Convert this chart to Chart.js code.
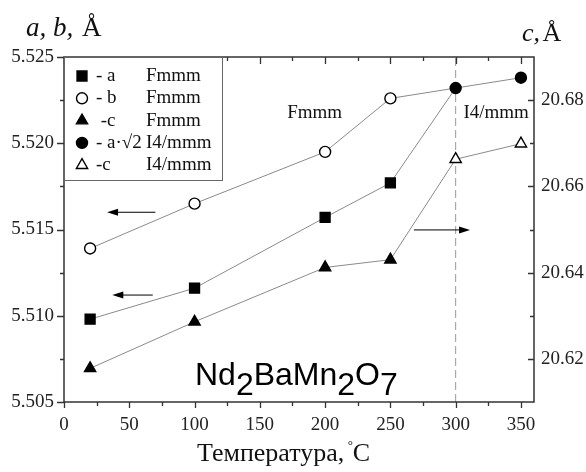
<!DOCTYPE html>
<html>
<head>
<meta charset="utf-8">
<script src="https://cdn.jsdelivr.net/npm/chart.js@4"></script>
<style>
  html, body { margin: 0; padding: 0; background: #fff; }
  #wrap { width: 586px; height: 472px; position: relative; }
</style>
</head>
<body>
<div id="wrap"><canvas id="grafico"></canvas></div>
<script>
// datos
const tempFmmm = [20, 100, 200, 250];
const tempI4 = [300, 350];
const aFmmm = [5.5098, 5.5116, 5.5157, 5.5177];
const bFmmm = [5.5139, 5.5165, 5.5195, 5.5226];
const aRaiz2I4 = [5.5232, 5.5238];
const cFmmm = [20.6178, 20.6286, 20.6412, 20.6430];
const cI4 = [20.6663, 20.6699];

const xTicks = [0, 50, 100, 150, 200, 250, 300, 350];
const xMinor = [25, 75, 125, 175, 225, 275, 325];
const yTicks = [5.505, 5.510, 5.515, 5.520, 5.525];
const yMinor = [5.5075, 5.5125, 5.5175, 5.5225];
const y2Ticks = [20.62, 20.64, 20.66, 20.68];
const y2Minor = [20.63, 20.65, 20.67];

const leyendaNombres = ['- a', '- b', ' -c', '- a\u00B7\u221A2', '-c'];
const leyendaFases = ['Fmmm', 'Fmmm', 'Fmmm', 'I4/mmm', 'I4/mmm'];
const leyendaSimbolos = ['rect', 'circle', 'triangle', 'circle', 'triangle'];
const leyendaRellenos = [true, false, true, true, false];

const SERIF = "'Liberation Serif', serif";
const GRIS = '#8a8a8a';

Chart.defaults.font.family = SERIF;

function puntos(xs, ys) {
    return xs.map((x, i) => ({ x: x, y: ys[i] }));
}

// estilo comun de las series
function serie(data, eje, estilo, relleno, radio, radios) {
    return {
        data: data,
        yAxisID: eje,
        showLine: true,
        borderColor: GRIS,
        borderWidth: 1,
        pointStyle: estilo,
        pointRadius: radios || radio,
        pointBackgroundColor: relleno ? '#000' : '#fff',
        pointBorderColor: '#000',
        pointBorderWidth: 1.4
    };
}

const datasets = [
    serie(puntos(tempI4, aRaiz2I4), 'y', 'circle', true, 5.5),
    serie(puntos(tempI4, cI4), 'y2', 'triangle', false, 6.5),
    serie(puntos(tempFmmm, aFmmm).concat([{ x: tempI4[0], y: aRaiz2I4[0] }]), 'y', 'rect', true, 7, [7, 7, 7, 7, 0]),
    serie(puntos(tempFmmm, bFmmm).concat([{ x: tempI4[0], y: aRaiz2I4[0] }]), 'y', 'circle', false, 5.5, [5.5, 5.5, 5.5, 5.5, 0]),
    serie(puntos(tempFmmm, cFmmm).concat([{ x: tempI4[0], y: cI4[0] }]), 'y2', 'triangle', true, 6.5, [6.5, 6.5, 6.5, 6.5, 0]),
    {
        // linea discontinua de la transicion
        data: [{ x: tempI4[0], y: yTicks[0] }, { x: tempI4[0], y: yTicks[yTicks.length - 1] }],
        yAxisID: 'y',
        showLine: true,
        borderColor: '#999',
        borderWidth: 1,
        borderDash: [8, 4],
        pointRadius: 0
    }
];

function fijarTicks(valores) {
    return function (scale) {
        scale.ticks = valores.map(v => ({ value: v }));
    };
}

function flecha(ctx, x1, y, x2) {
    const dir = Math.sign(x2 - x1);
    ctx.strokeStyle = '#000';
    ctx.fillStyle = '#000';
    ctx.lineWidth = 1;
    ctx.beginPath();
    ctx.moveTo(x1, y);
    ctx.lineTo(x2 - dir * 8, y);
    ctx.stroke();
    ctx.beginPath();
    ctx.moveTo(x2, y);
    ctx.lineTo(x2 - dir * 11, y - 3.5);
    ctx.lineTo(x2 - dir * 11, y + 3.5);
    ctx.closePath();
    ctx.fill();
}

const extras = {
    id: 'extras',
    afterDatasetsDraw(chart) {
        const ctx = chart.ctx;
        const sx = chart.scales.x, sy = chart.scales.y, sy2 = chart.scales.y2;
        const area = chart.chartArea;
        ctx.save();

        // marco
        ctx.strokeStyle = '#333';
        ctx.lineWidth = 1.5;
        ctx.strokeRect(area.left, area.top, area.right - area.left, area.bottom - area.top);

        // marcas de los ejes
        ctx.lineWidth = 1.3;
        ctx.beginPath();
        xTicks.forEach(v => {
            const px = Math.round(sx.getPixelForValue(v)) + 0.5;
            ctx.moveTo(px, area.bottom); ctx.lineTo(px, area.bottom + 6);
            ctx.moveTo(px, area.top); ctx.lineTo(px, area.top + 7);
        });
        xMinor.forEach(v => {
            const px = Math.round(sx.getPixelForValue(v)) + 0.5;
            ctx.moveTo(px, area.bottom); ctx.lineTo(px, area.bottom + 4);
            ctx.moveTo(px, area.top); ctx.lineTo(px, area.top + 4);
        });
        yTicks.forEach(v => {
            const py = Math.round(sy.getPixelForValue(v)) + 0.5;
            ctx.moveTo(area.left, py); ctx.lineTo(area.left - 7, py);
        });
        yMinor.forEach(v => {
            const py = Math.round(sy.getPixelForValue(v)) + 0.5;
            ctx.moveTo(area.left, py); ctx.lineTo(area.left - 4, py);
        });
        y2Ticks.forEach(v => {
            const py = Math.round(sy2.getPixelForValue(v)) + 0.5;
            ctx.moveTo(area.right, py); ctx.lineTo(area.right - 6, py);
        });
        y2Minor.forEach(v => {
            const py = Math.round(sy2.getPixelForValue(v)) + 0.5;
            ctx.moveTo(area.right, py); ctx.lineTo(area.right - 4, py);
        });
        ctx.stroke();

        // leyenda
        const lx = area.left, ly = area.top;
        ctx.fillStyle = '#fff';
        ctx.fillRect(lx + 1, ly + 1, 157, 122);
        ctx.strokeStyle = '#666';
        ctx.lineWidth = 1;
        ctx.strokeRect(lx + 0.5, ly + 0.5, 158, 123);
        leyendaNombres.forEach((nombre, i) => {
            const yy = ly + 19 + i * 22.3;
            ctx.fillStyle = leyendaRellenos[i] ? '#000' : '#fff';
            ctx.strokeStyle = '#000';
            ctx.lineWidth = 1.4;
            const r = leyendaSimbolos[i] === 'rect' ? 7 : (leyendaSimbolos[i] === 'triangle' ? 6.5 : 5.5);
            Chart.helpers.drawPoint(ctx, { pointStyle: leyendaSimbolos[i], radius: r, rotation: 0, borderWidth: 1.4 }, lx + 18, yy);
            ctx.fillStyle = '#111';
            ctx.font = '19px ' + SERIF;
            ctx.textBaseline = 'middle';
            ctx.textAlign = 'left';
            ctx.fillText(nombre, lx + 32, yy);
            ctx.fillText(leyendaFases[i], lx + 82, yy);
        });

        // etiquetas de fase
        ctx.font = '19px ' + SERIF;
        ctx.textAlign = 'center';
        ctx.fillStyle = '#111';
        ctx.fillText('Fmmm', sx.getPixelForValue(192), sy.getPixelForValue(5.52175));
        ctx.fillText('I4/mmm', sx.getPixelForValue(331), sy.getPixelForValue(5.52175));

        // flechas
        flecha(ctx, sx.getPixelForValue(70), sy.getPixelForValue(5.5160), sx.getPixelForValue(33));
        flecha(ctx, sx.getPixelForValue(68), sy.getPixelForValue(5.5112), sx.getPixelForValue(37));
        flecha(ctx, sx.getPixelForValue(268), sy2.getPixelForValue(20.6499), sx.getPixelForValue(311));

        // formula
        ctx.font = "32px 'Liberation Sans', sans-serif";
        ctx.textAlign = 'left';
        ctx.textBaseline = 'alphabetic';
        ctx.fillStyle = '#000';
        let fx = 195;
        const base = 385;
        [['Nd', 0], ['2', 10], ['BaMn', 0], ['2', 10], ['O', 0], ['7', 10]].forEach(p => {
            ctx.fillText(p[0], fx, base + p[1]);
            fx += ctx.measureText(p[0]).width;
        });

        // titulos de ejes
        ctx.fillStyle = '#111';
        ctx.font = 'italic 27px ' + SERIF;
        ctx.fillText('a, b, ', 26, 36);
        let w = ctx.measureText('a, b, ').width;
        ctx.font = '27px ' + SERIF;
        ctx.fillText('\u00C5', 26 + w + 2, 36);
        ctx.font = 'italic 26px ' + SERIF;
        ctx.fillText('c,', 522, 41);
        w = ctx.measureText('c, ').width;
        ctx.font = '26px ' + SERIF;
        ctx.fillText('\u00C5', 522 + w - 4, 41);

        ctx.font = '26px ' + SERIF;
        const tituloX = 'Температура, ';
        ctx.fillText(tituloX, 197, 461);
        w = ctx.measureText(tituloX).width;
        ctx.font = '13px ' + SERIF;
        ctx.fillText('\u00B0', 197 + w - 3, 449);
        ctx.font = '26px ' + SERIF;
        ctx.fillText('C', 197 + w + 2, 461);

        ctx.restore();
    }
};

new Chart(document.getElementById('grafico'), {
    type: 'scatter',
    data: { datasets: datasets },
    options: {
        responsive: true,
        maintainAspectRatio: false,
        animation: false,
        layout: { padding: { top: 57, left: 0, right: 0, bottom: 0 } },
        plugins: { legend: { display: false }, tooltip: { enabled: false } },
        scales: {
            x: {
                type: 'linear',
                min: 0,
                max: 360,
                afterBuildTicks: fijarTicks(xTicks),
                afterFit: s => { s.height = 70; },
                grid: { display: false, drawTicks: false },
                border: { display: false },
                ticks: {
                    padding: 12,
                    color: '#222',
                    font: { family: SERIF, size: 19 },
                    callback: v => String(v)
                }
            },
            y: {
                type: 'linear',
                position: 'left',
                min: 5.505,
                max: 5.525,
                afterBuildTicks: fijarTicks(yTicks),
                afterFit: s => { s.width = 64; },
                grid: { display: false, drawTicks: false },
                border: { display: false },
                ticks: {
                    padding: 10,
                    color: '#222',
                    font: { family: SERIF, size: 19 },
                    callback: v => v.toFixed(3)
                }
            },
            y2: {
                type: 'linear',
                position: 'right',
                min: 20.61,
                max: 20.69,
                afterBuildTicks: fijarTicks(y2Ticks),
                afterFit: s => { s.width = 52; },
                grid: { display: false, drawTicks: false },
                border: { display: false },
                ticks: {
                    padding: 7,
                    color: '#222',
                    font: { family: SERIF, size: 19 },
                    callback: v => v.toFixed(2)
                }
            }
        }
    },
    plugins: [extras]
});
</script>
</body>
</html>
